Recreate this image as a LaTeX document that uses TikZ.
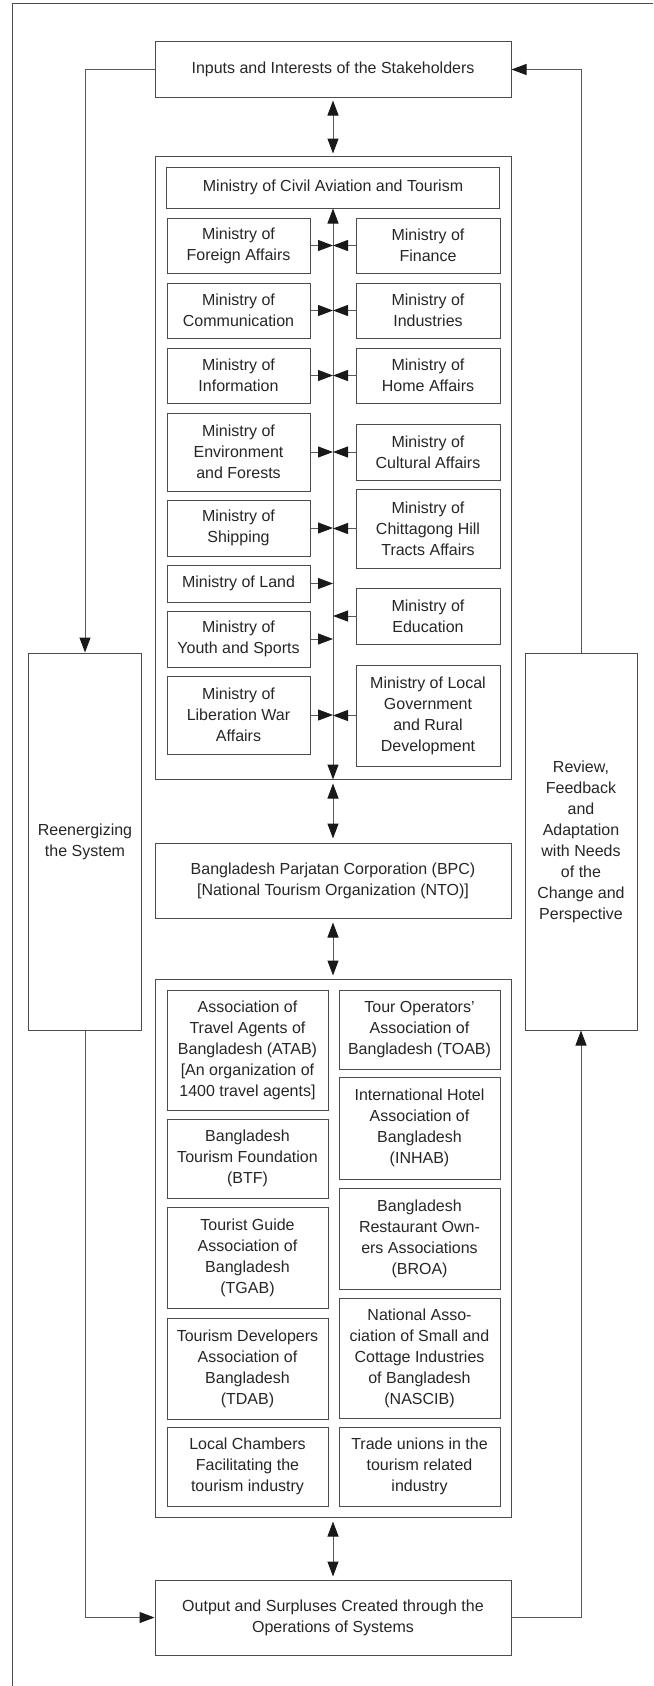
\documentclass[tikz,border=0pt]{standalone}
\usepackage{fontspec}
\setmainfont{Liberation Sans}
\usetikzlibrary{arrows.meta}
\begin{document}
\begin{tikzpicture}[x=1pt,y=-1pt,
  box/.style={draw=black!70, line width=1pt, align=center, inner sep=0pt,
    font=\fontsize{16}{21}\selectfont, text=black!85},
  frame/.style={draw=black!70, line width=1pt},
  conn/.style={draw=black!65, line width=1pt},
  tipend/.style={-{Triangle[length=15pt,width=11pt,color=black!90]}},
  tipboth/.style={{Triangle[length=15pt,width=11pt,color=black!90]}-{Triangle[length=15pt,width=11pt,color=black!90]}},
  lc/.style={box, minimum width=143pt},
  rc/.style={box, minimum width=144pt},
  la/.style={box, minimum width=161pt},
  ra/.style={box, minimum width=161pt},
  wide/.style={box, minimum width=356pt}]
\useasboundingbox (0,0) rectangle (653,1686);
% outer frame
\draw[frame] (12,1686) -- (12,4) -- (653,4);

% top
\node[wide, minimum height=55pt] (top) at (333,69.5) {Inputs and Interests of the Stakeholders};

% ministries
\node[wide, minimum height=623pt] (minbox) at (333,467.5) {};
\node[box, minimum width=333pt, minimum height=41pt] (civil) at (333,187.5) {Ministry of Civil Aviation and Tourism};
\node[lc, minimum height=55pt] (fa) at (238.5,245.5) {Ministry of\\Foreign Affairs};
\node[rc, minimum height=55pt] (fin) at (428,245.5) {Ministry of\\Finance};
\node[lc, minimum height=55pt] (com) at (238.5,310.5) {Ministry of\\Communication};
\node[rc, minimum height=55pt] (ind) at (428,310.5) {Ministry of\\Industries};
\node[lc, minimum height=55pt] (info) at (238.5,375.5) {Ministry of\\Information};
\node[rc, minimum height=55pt] (home) at (428,375.5) {Ministry of\\Home Affairs};
\node[lc, minimum height=78pt] (env) at (238.5,452) {Ministry of\\Environment\\and Forests};
\node[rc, minimum height=56pt] (cult) at (428,452) {Ministry of\\Cultural Affairs};
\node[lc, minimum height=56pt] (ship) at (238.5,528) {Ministry of\\Shipping};
\node[rc, minimum height=79pt] (chit) at (428,528.5) {Ministry of\\Chittagong Hill\\Tracts Affairs};
\node[lc, minimum height=37pt] (land) at (238.5,583.5) {Ministry of Land};
\node[rc, minimum height=56pt] (edu) at (428,616) {Ministry of\\Education};
\node[lc, minimum height=56pt] (youth) at (238.5,639) {Ministry of\\Youth and Sports};
\node[lc, minimum height=78pt] (lib) at (238.5,715) {Ministry of\\Liberation War\\Affairs};
\node[rc, minimum height=101pt] (lgov) at (428,715.5) {Ministry of Local\\Government\\and Rural\\Development};

\draw[conn, tipboth] (minbox.south) -- (civil.south);
\foreach \n in {fa,com,info,env,ship,land,youth,lib}
  \draw[conn, tipend] (\n.east) -- (\n.east -| civil.south);
\foreach \n in {fin,ind,home,cult,chit,edu,lgov}
  \draw[conn, tipend] (\n.west) -- (\n.west -| civil.south);

% BPC
\node[wide, minimum height=75pt] (bpc) at (333,880.5) {Bangladesh Parjatan Corporation (BPC)\\{[}National Tourism Organization (NTO){]}};

% associations
\node[wide, minimum height=538pt] (assoc) at (333,1248) {};
\node[la, minimum height=120pt] (atab) at (247.5,1050) {Association of\\Travel Agents of\\Bangladesh (ATAB)\\{[}An organization of\\1400 travel agents{]}};
\node[ra, minimum height=79pt] (toab) at (419.5,1029.5) {Tour Operators’\\Association of\\Bangladesh (TOAB)};
\node[ra, minimum height=102pt] (inhab) at (419.5,1128) {International Hotel\\Association of\\Bangladesh\\(INHAB)};
\node[la, minimum height=79pt] (btf) at (247.5,1158.5) {Bangladesh\\Tourism Foundation\\(BTF)};
\node[la, minimum height=101pt] (tgab) at (247.5,1257.5) {Tourist Guide\\Association of\\Bangladesh\\(TGAB)};
\node[ra, minimum height=101pt] (broa) at (419.5,1238.5) {Bangladesh\\Restaurant Own-\\ers Associations\\(BROA)};
\node[la, minimum height=101pt] (tdab) at (247.5,1368.5) {Tourism Developers\\Association of\\Bangladesh\\(TDAB)};
\node[ra, minimum height=120pt] (nascib) at (419.5,1358) {National Asso-\\ciation of Small and\\Cottage Industries\\of Bangladesh\\(NASCIB)};
\node[la, minimum height=79pt] (lcham) at (247.5,1466.5) {Local Chambers\\Facilitating the\\tourism industry};
\node[ra, minimum height=79pt] (trade) at (419.5,1466.5) {Trade unions in the\\tourism related\\industry};

% output
\node[wide, minimum height=75pt] (output) at (333,1617.5) {Output and Surpluses Created through the\\Operations of Systems};

% side boxes
\node[box, minimum width=113pt, minimum height=377pt] (reen) at (85,841.5) {Reenergizing\\the System};
\node[box, minimum width=112pt, minimum height=377pt] (review) at (581,841.5) {Review,\\Feedback\\and\\Adaptation\\with Needs\\of the\\Change and\\Perspective};

% vertical double arrows
\draw[conn, tipboth, shorten <=3pt, shorten >=2pt] (top.south) -- (minbox.north);
\draw[conn, tipboth, shorten <=4pt, shorten >=4pt] (minbox.south) -- (bpc.north);
\draw[conn, tipboth, shorten <=4pt, shorten >=3pt] (bpc.south) -- (assoc.north);
\draw[conn, tipboth, shorten <=4pt, shorten >=3pt] (assoc.south) -- (output.north);

% feedback loops
\draw[conn, tipend] (top.west) -| (reen.north);
\draw[conn, tipend] (reen.south) |- (output.west);
\draw[conn, tipend] (output.east) -| (review.south);
\draw[conn, tipend] (review.north) |- (top.east);
\end{tikzpicture}
\end{document}
